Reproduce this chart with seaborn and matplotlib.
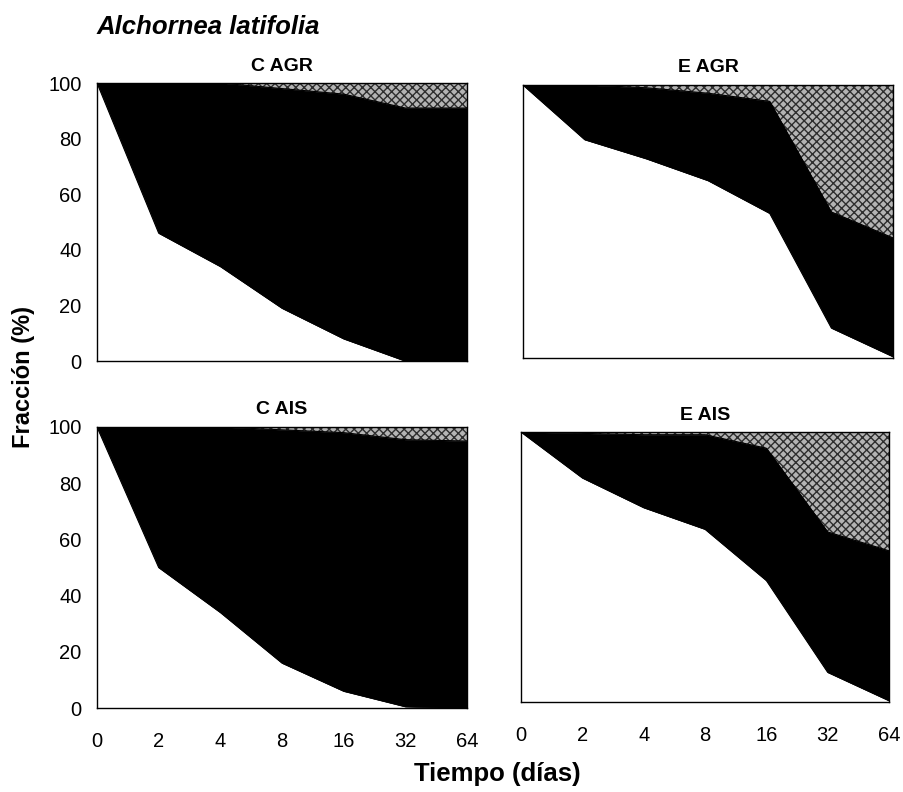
import numpy as np
import pandas as pd
import matplotlib
matplotlib.use("Agg")
import matplotlib.pyplot as plt
import seaborn as sns

# ---- data ----
tiempo = ["0", "2", "4", "8", "16", "32", "64"]
panels = ["C AGR", "E AGR", "C AIS", "E AIS"]

# lower boundary (white fraction) and upper boundary (white + black) in %
c_agr_low = [100, 46, 34, 19, 8, 0, 0]
c_agr_up = [100, 100, 100, 98, 96, 91, 91]
e_agr_low = [100, 80, 73, 65, 53, 11, 0.5]
e_agr_up = [100, 100, 99, 97, 94, 53.5, 44]
c_ais_low = [100, 50, 34, 16, 6, 0.5, 0]
c_ais_up = [100, 100, 100, 99, 98, 95.5, 95]
e_ais_low = [100, 83, 72, 64, 45, 11, 0.5]
e_ais_up = [100, 99.5, 99, 99, 94, 63, 56]

lows = [c_agr_low, e_agr_low, c_ais_low, e_ais_low]
ups = [c_agr_up, e_agr_up, c_ais_up, e_ais_up]

sns.set_theme(style="white")
plt.rcParams["font.family"] = ["Liberation Sans", "DejaVu Sans"]
plt.rcParams["text.color"] = "black"
plt.rcParams["xtick.color"] = "black"
plt.rcParams["ytick.color"] = "black"
plt.rcParams["axes.labelcolor"] = "black"
plt.rcParams["hatch.linewidth"] = 1.0

fig = plt.figure(figsize=(9.04, 7.92), dpi=100)
W, H = 904, 792
boxes = [(97, 83, 467, 361), (523, 85, 893, 358),
         (97, 427, 467, 708), (521, 432, 889, 702)]

x = np.arange(len(tiempo))
for i, (name, lo, up, b) in enumerate(zip(panels, lows, ups, boxes)):
    l, t, r, bt = b
    ax = fig.add_axes([l / W, 1 - bt / H, (r - l) / W, (bt - t) / H])
    df = pd.DataFrame({"x": x, "low": lo, "up": up})
    ax.fill_between(df["x"], df["up"], 100, facecolor="#b4b4b4",
                    edgecolor="#2e2e2e", hatch="xxxx", linewidth=0)
    ax.fill_between(df["x"], df["low"], df["up"], facecolor="black",
                    edgecolor="black", linewidth=0.5)
    sns.lineplot(data=df, x="x", y="up", ax=ax, color="black", lw=0.8)
    sns.lineplot(data=df, x="x", y="low", ax=ax, color="black", lw=0.8)
    ax.set_xlim(0, len(tiempo) - 1)
    ax.set_ylim(0, 100)
    ax.set_xticks(x)
    ax.set_yticks([0, 20, 40, 60, 80, 100])
    ax.set_xlabel("")
    ax.set_ylabel("")
    ax.tick_params(direction="in", length=5, width=0.8, color="#333333",
                   labelsize=14.5, labelcolor="black", pad=11)
    ax.tick_params(axis="x", pad=17)
    if i >= 2:
        ax.set_xticklabels(tiempo)
    else:
        ax.set_xticklabels([])
    if i % 2 == 1:
        ax.set_yticklabels([])
    for s in ax.spines.values():
        s.set_color("black")
        s.set_linewidth(1.0)
        s.set_visible(True)
    ax.set_title(name, fontsize=14, fontweight="bold", pad=9, color="black")

fig.text(97 / W, 1 - 27 / H, "Alchornea latifolia", fontsize=18.5,
         fontweight="bold", fontstyle="italic", ha="left", va="center")
fig.text(24 / W, 1 - 377 / H, "Fracción (%)", fontsize=17,
         fontweight="bold", rotation=90, ha="center", va="center")
fig.text(497 / W, 1 - 774 / H, "Tiempo (días)", fontsize=18.5,
         fontweight="bold", ha="center", va="center")

fig.savefig("out.png", dpi=100)
